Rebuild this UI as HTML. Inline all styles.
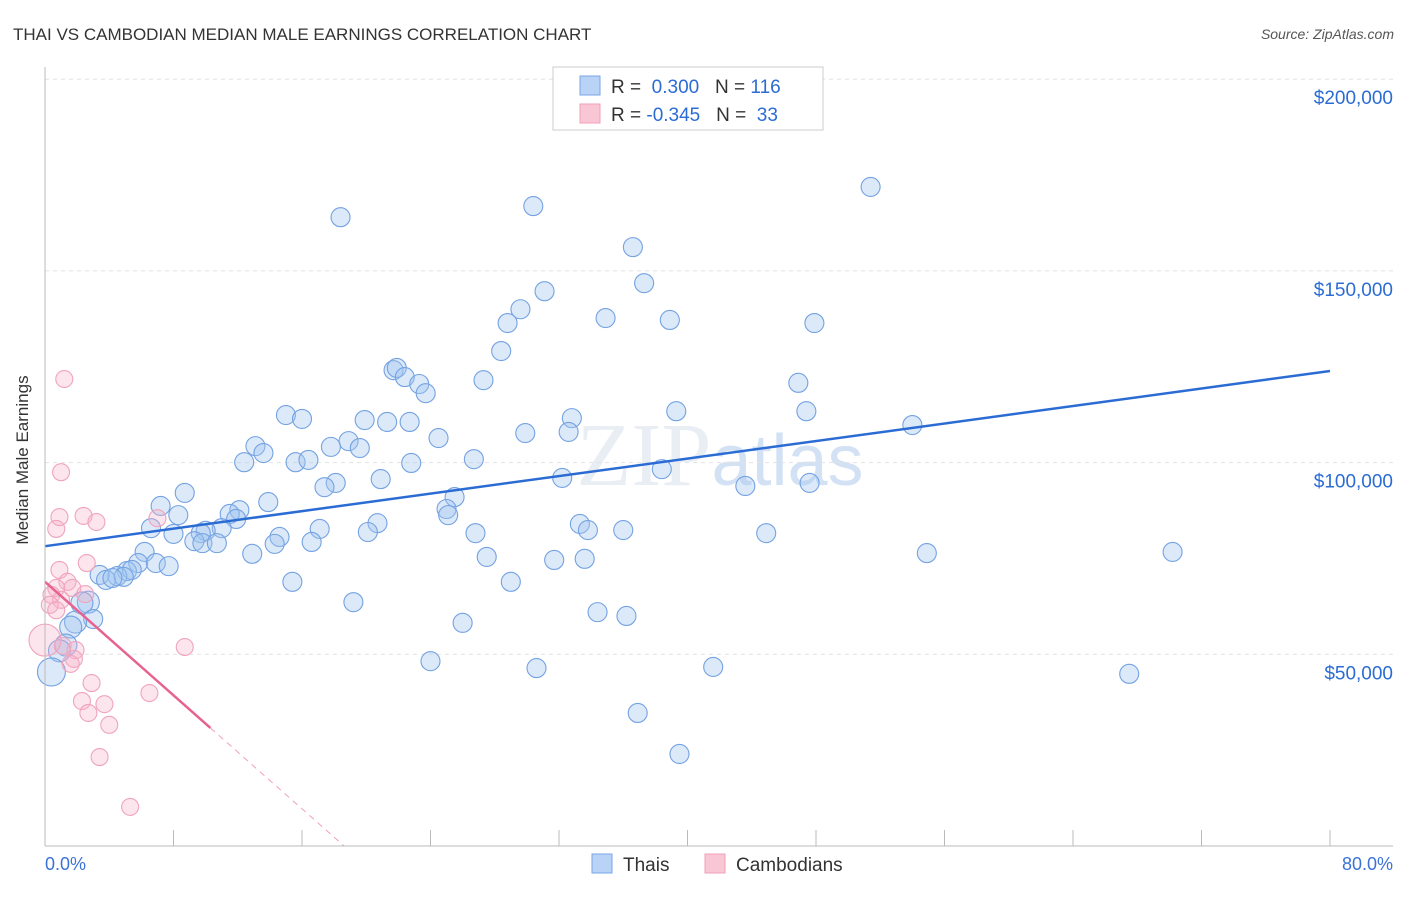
<!DOCTYPE html>
<html><head><meta charset="utf-8"><style>
body{margin:0;background:#fff;font-family:"Liberation Sans",sans-serif}
</style></head><body>
<svg id="c" width="1406" height="892" xmlns="http://www.w3.org/2000/svg" font-family="Liberation Sans, sans-serif">
<text x="13" y="40" font-size="17" fill="#333">THAI VS CAMBODIAN MEDIAN MALE EARNINGS CORRELATION CHART</text>
<text x="1394" y="39" font-size="14" fill="#555" text-anchor="end" font-style="italic">Source: ZipAtlas.com</text>
<text x="720" y="485" font-size="90" fill="#e9edf4" text-anchor="middle" font-family="Liberation Serif, serif">ZIP<tspan fill="#d3e1f4" font-family="Liberation Sans, sans-serif" font-size="72">atlas</tspan></text>
<g id="grid"></g><g id="pts"></g><g id="lines"></g>
<line x1="45" y1="67" x2="45" y2="846" stroke="#bbb"/>
<line x1="45" y1="846" x2="1393" y2="846" stroke="#bbb"/>
<text x="23" y="455" font-size="17" fill="#333" text-anchor="middle" transform="rotate(-90 28 455)">Median Male Earnings</text>
<text x="45" y="870" font-size="18" fill="#3a72d8">0.0%</text>
<text x="1393" y="870" font-size="18" fill="#3a72d8" text-anchor="end">80.0%</text>
<g>
<rect x="553" y="67" width="270" height="63" fill="#fff" stroke="#ccc"/>
<rect x="580" y="76" width="20" height="19" fill="#b8d3f6" stroke="#7aa6e6"/>
<rect x="580" y="104" width="20" height="19" fill="#f9c6d5" stroke="#f0a0b8"/>
<text x="611" y="93" font-size="19" fill="#333">R = <tspan fill="#2b6cd4">&#160;0.300</tspan>&#160;&#160;&#160;N = <tspan fill="#2b6cd4">116</tspan></text>
<text x="611" y="121" font-size="19" fill="#333">R = <tspan fill="#2b6cd4">-0.345</tspan>&#160;&#160;&#160;N = <tspan fill="#2b6cd4">&#160;33</tspan></text>
</g>
<g>
<rect x="592" y="854" width="20" height="19" fill="#b8d3f6" stroke="#7aa6e6"/>
<text x="623" y="871" font-size="19" fill="#333">Thais</text>
<rect x="705" y="854" width="20" height="19" fill="#f9c6d5" stroke="#f0a0b8"/>
<text x="736" y="871" font-size="19" fill="#333">Cambodians</text>
</g>
</svg>
<script>
const yTicks=[50000,100000,150000,200000];
const yTickLabels=["$50,000","$100,000","$150,000","$200,000"];
const xTicks=[0,8,16,24,32,40,48,56,64,72,80];
const thaiX=[18.4,30.4,51.4,36.6,37.3,31.1,29.6,28.8,34.9,38.9,47.9,28.4,21.7,21.9,22.4,23.3,23.7,27.3,46.9,15.0,16.0,19.9,21.3,22.7,32.8,39.3,47.4,54.0,32.6,29.9,24.5,18.9,17.8,19.6,13.1,13.6,12.4,15.6,16.4,22.8,26.7,38.4,32.2,20.9,18.1,17.4,43.6,47.6,8.7,25.5,13.9,7.2,12.1,25.0,25.1,11.5,8.3,11.9,20.7,33.3,6.6,17.1,11.0,10.0,9.7,20.1,26.8,33.8,36.0,44.9,14.6,8.0,9.3,9.8,10.7,14.3,16.6,6.2,12.9,54.9,70.2,27.5,31.7,33.6,5.8,6.9,7.7,5.1,5.4,4.5,3.4,3.8,4.9,4.2,15.4,29.0,2.7,2.3,19.2,34.4,36.2,3.0,1.9,1.6,26.0,1.3,0.9,24.0,41.6,30.6,0.4,67.5,36.9,39.5];
const thaiY=[164.0,166.9,171.9,156.2,146.8,144.7,140.0,136.4,137.7,137.2,136.4,129.1,124.1,124.7,122.3,120.5,118.1,121.5,120.8,112.4,111.4,111.1,110.6,110.6,111.6,113.4,113.4,109.8,108.0,107.7,106.4,105.6,104.1,103.8,104.3,102.5,100.1,100.1,100.7,99.9,100.9,98.3,96.0,95.7,94.7,93.6,93.9,94.7,92.1,91.0,89.7,88.7,87.6,87.9,86.3,86.6,86.3,85.3,84.2,84.0,82.9,82.7,82.9,82.2,81.6,81.9,81.6,82.4,82.4,81.6,80.6,81.4,79.5,79.0,79.0,78.8,79.3,76.7,76.2,76.4,76.7,75.4,74.6,74.9,73.8,73.8,73.0,71.7,72.0,70.4,70.7,69.4,70.2,69.9,68.9,68.9,63.6,63.4,63.6,61.0,60.0,59.2,58.4,57.1,58.2,52.4,50.9,48.2,46.7,46.4,45.4,44.9,34.7,24.0];
const camX=[1.2,1.0,0.9,2.4,3.2,0.7,7.0,2.6,0.9,1.4,1.7,0.7,0.4,1.0,0.3,0.7,2.5,1.1,1.9,1.8,1.6,8.7,2.9,6.5,2.3,3.7,2.7,4.0,3.4,5.3,0.0];
const camY=[121.8,97.5,85.8,86.1,84.5,82.7,85.5,73.8,72.0,68.9,67.3,67.3,65.5,64.2,62.9,61.5,65.7,52.2,51.1,48.8,47.5,51.9,42.5,39.9,37.8,37.0,34.7,31.6,23.2,10.2,53.7];
const thaiLine=[78.2,123.9];
const camLine=[68.9,-3.7,10.3];
const NS="http://www.w3.org/2000/svg";
const X=v=>45+v/80*1285, Y=k=>846-k*1000/50000*191.7;
function mk(t,a,p){const e=document.createElementNS(NS,t);for(const k in a)e.setAttribute(k,a[k]);p.appendChild(e);return e;}
const g=document.getElementById('grid');
yTicks.forEach((v,i)=>{const y=Y(v/1000);
 const l=mk('line',{x1:45,x2:1393,y1:y,y2:y,stroke:'#e2e2e2','stroke-dasharray':'4,4'},g);
 
 
 const t=mk('text',{x:1393,y:y+25,'font-size':19,fill:'#2b6cd4','text-anchor':'end'},g);t.textContent=yTickLabels[i];
 
 });
xTicks.forEach(v=>{const l=mk('line',{x1:X(v),x2:X(v),y1:830,y2:846,stroke:'#bbb'},g);
 
 });
const p=document.getElementById('pts');
thaiX.forEach((x,i)=>{const c=mk('circle',{cx:X(x),cy:Y(thaiY[i]),r:i==110?14:(x<3?11:9.5),fill:'rgba(160,196,240,0.38)',stroke:'#74a2e2','stroke-width':1.1},p);
 
 });
camX.forEach((x,i)=>{const c=mk('circle',{cx:X(x),cy:Y(camY[i]),r:i==30?16:8.5,fill:'rgba(245,175,200,0.33)',stroke:'#f0a4bc','stroke-width':1.1},p);
 
 });
const L=document.getElementById('lines');
const bl=mk('line',{x1:X(0),y1:Y(thaiLine[0]),x2:X(80),y2:Y(thaiLine[1]),stroke:'#2b6cd4','stroke-width':2.5},L);


const xe=camLine[2], xz=-camLine[0]/camLine[1];
const pl=mk('line',{x1:X(0),y1:Y(camLine[0]),x2:X(xe),y2:Y(camLine[0]+camLine[1]*xe),stroke:'#e8628e','stroke-width':2.5},L);


const pd=mk('line',{x1:X(xe),y1:Y(camLine[0]+camLine[1]*xe),x2:X(xz),y2:Y(0),stroke:'#f0a0b8','stroke-width':1,'stroke-dasharray':'6,5'},L);


</script>
</body></html>
